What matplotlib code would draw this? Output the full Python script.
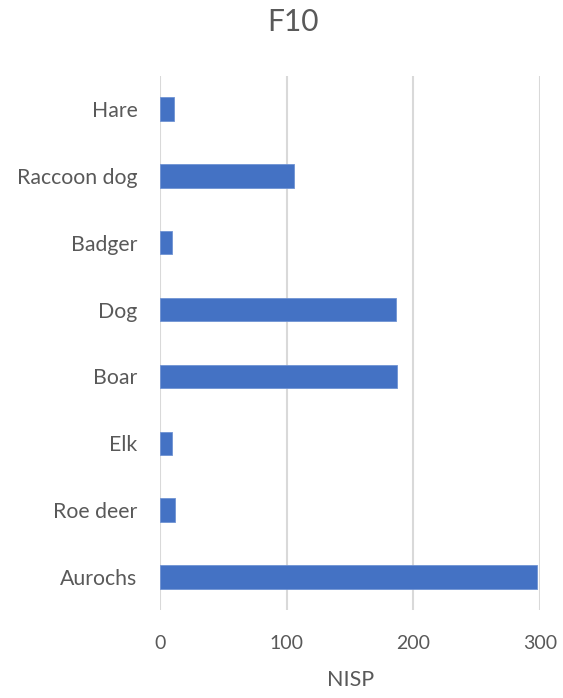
import matplotlib
matplotlib.use("Agg")
import matplotlib.pyplot as plt

# NISP counts per taxon, feature F10
taxa = ["Aurochs", "Roe deer", "Elk", "Boar", "Dog", "Badger", "Raccoon dog", "Hare"]
nisp = [298, 12, 9, 187, 186, 9, 106, 11]
x_ticks = [0, 100, 200, 300]

TEXT = "#595959"
GRID = "#D9D9D9"
BAR = "#4472C4"

plt.rcParams["font.family"] = ["Lato", "DejaVu Sans"]

fig = plt.figure(figsize=(5.63, 6.98), dpi=100)
W, H = 563, 698
left, right, top, bottom = 160.3, 540.0, 75.6, 610.4
ax = fig.add_axes([left / W, 1 - bottom / H, (right - left) / W, (bottom - top) / H])

ypos = list(range(len(taxa)))
ax.barh(ypos, nisp, height=0.35, color=BAR, edgecolor="#6F93D3", linewidth=0.6, zorder=3)

ax.set_xlim(0, 300)
ax.set_ylim(-0.5, len(taxa) - 0.5)
ax.set_xticks(x_ticks)
ax.set_xticklabels([str(t) for t in x_ticks])
ax.set_yticks(ypos)
ax.set_yticklabels(taxa)

ax.xaxis.grid(True, color=GRID, linewidth=1.5, zorder=0)
ax.yaxis.grid(False)
for s in ax.spines.values():
    s.set_visible(False)
ax.tick_params(axis="both", length=0, colors=TEXT)
ax.tick_params(axis="x", pad=18, labelsize=14)
ax.tick_params(axis="y", pad=16.5, labelsize=15.3)

ax.set_xlabel("NISP", fontsize=15.5, color=TEXT, labelpad=13)
fig.text(292.5 / W, 1 - 22 / H, "F10", ha="center", va="center", fontsize=21.5, color=TEXT)

fig.savefig("out.png", dpi=100, facecolor="white")
